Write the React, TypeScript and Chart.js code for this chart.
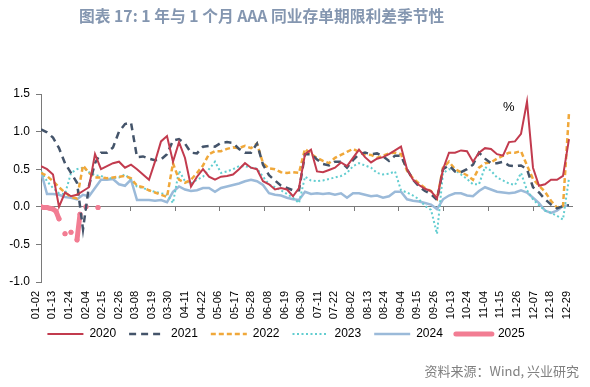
import React, { useEffect, useRef } from 'react';
import { Chart, registerables } from 'chart.js';
Chart.register(...registerables);

const titleText = '图表 17: 1 年与 1 个月 AAA 同业存单期限利差季节性';
const sourceText = '资料来源：Wind, 兴业研究';
const unitText = '%';

const tickLabels = ['01-02','01-13','01-24','02-04','02-15','02-26','03-08','03-19','03-30','04-11','04-22','05-06','05-17','05-28','06-08','06-19','06-30','07-11','07-22','08-02','08-13','08-24','09-04','09-15','09-26','10-13','10-24','11-04','11-15','11-26','12-07','12-18','12-29'];

const seriesNames = ['2020', '2021', '2022', '2023', '2024', '2025'];

const s2020 = [
  0.54, 0.50, 0.43, 0.00, 0.19, 0.14, 0.16, 0.21, 0.26, 0.70,
  0.50, 0.54, 0.58, 0.60, 0.52, 0.56, 0.50, 0.43, 0.36, 0.60,
  0.87, 0.94, 0.60, 0.86, 0.65, 0.27, 0.40, 0.50, 0.40, 0.36,
  0.40, 0.41, 0.43, 0.50, 0.58, 0.52, 0.50, 0.34, 0.30, 0.23,
  0.25, 0.23, 0.14, 0.25, 0.70, 0.76, 0.47, 0.46, 0.49, 0.52,
  0.59, 0.54, 0.65, 0.76, 0.66, 0.59, 0.64, 0.66, 0.70, 0.75,
  0.80, 0.50, 0.36, 0.29, 0.24, 0.21, 0.11, 0.50, 0.72, 0.72,
  0.75, 0.74, 0.60, 0.72, 0.78, 0.77, 0.70, 0.68, 0.86, 0.87,
  0.97, 1.40, 0.52, 0.28, 0.30, 0.36, 0.36, 0.41, 0.90,
];
const s2021 = [
  1.03, 0.99, 0.92, 0.78, 0.58, 0.45, 0.32, -0.30, 0.28, 0.58,
  0.72, 0.72, 0.79, 1.00, 1.10, 1.12, 0.66, 0.67, 0.64, 0.62,
  0.63, 0.70, 0.88, 0.90, 0.84, 0.72, 0.71, 0.80, 0.81, 0.80,
  0.85, 0.86, 0.85, 0.77, 0.72, 0.72, 0.84, 0.56, 0.42, 0.35,
  0.28, 0.25, 0.22, 0.22, 0.70, 0.70, 0.63, 0.57, 0.55, 0.60,
  0.60, 0.52, 0.62, 0.70, 0.72, 0.70, 0.71, 0.67, 0.61, 0.68,
  0.68, 0.50, 0.36, 0.27, 0.21, 0.17, 0.09, 0.50, 0.55, 0.47,
  0.46, 0.50, 0.56, 0.72, 0.64, 0.58, 0.58, 0.60, 0.55, 0.54,
  0.55, 0.50, 0.26, 0.19, 0.10, 0.03, -0.02, 0.01, 0.02,
];
const s2022 = [
  0.45, 0.41, 0.34, 0.26, 0.19, 0.13, 0.11, 0.55, 0.45, 0.39,
  0.39, 0.38, 0.39, 0.40, 0.41, 0.38, 0.28, 0.26, 0.22, 0.19,
  0.16, 0.13, 0.58, 0.36, 0.32, 0.36, 0.45, 0.55, 0.70, 0.74,
  0.74, 0.77, 0.79, 0.78, 0.81, 0.78, 0.84, 0.58, 0.51, 0.50,
  0.46, 0.45, 0.46, 0.45, 0.77, 0.70, 0.65, 0.61, 0.58, 0.65,
  0.69, 0.73, 0.77, 0.73, 0.70, 0.69, 0.65, 0.68, 0.71, 0.72,
  0.70, 0.48, 0.38, 0.31, 0.25, 0.21, 0.11, 0.52, 0.60, 0.50,
  0.46, 0.42, 0.36, 0.52, 0.58, 0.59, 0.64, 0.68, 0.72, 0.72,
  0.74, 0.55, 0.37, 0.28, 0.20, 0.08, -0.01, 0.01, 1.25,
];
const s2023 = [
  0.47, 0.34, 0.25, 0.18, 0.17, 0.45, 0.50, 0.52, 0.46, 0.42,
  0.41, 0.38, 0.38, 0.39, 0.43, 0.36, 0.27, 0.25, 0.22, 0.20,
  0.18, 0.16, 0.05, 0.48, 0.34, 0.31, 0.36, 0.40, 0.50, 0.60,
  0.45, 0.47, 0.50, 0.54, 0.54, 0.52, 0.51, 0.40, 0.30, 0.26,
  0.22, 0.17, 0.12, 0.05, 0.40, 0.35, 0.34, 0.35, 0.37, 0.39,
  0.41, 0.45, 0.54, 0.58, 0.55, 0.52, 0.45, 0.43, 0.44, 0.47,
  0.22, 0.19, 0.15, 0.10, 0.01, -0.04, -0.36, 0.45, 0.50, 0.49,
  0.43, 0.37, 0.30, 0.30, 0.53, 0.48, 0.39, 0.35, 0.31, 0.29,
  0.45, 0.22, 0.10, 0.02, -0.05, -0.08, -0.12, -0.17, 0.38,
];
const s2024 = [
  0.47, 0.17, 0.17, 0.16, 0.13, 0.12, 0.10, 0.16, 0.14, 0.25,
  0.36, 0.36, 0.37, 0.30, 0.28, 0.36, 0.09, 0.09, 0.09, 0.08,
  0.09, 0.06, 0.20, 0.27, 0.23, 0.21, 0.22, 0.25, 0.25, 0.20,
  0.25, 0.27, 0.29, 0.31, 0.34, 0.36, 0.34, 0.29, 0.18, 0.16,
  0.15, 0.12, 0.10, 0.09, 0.20, 0.17, 0.18, 0.17, 0.18, 0.16,
  0.18, 0.12, 0.18, 0.18, 0.16, 0.14, 0.15, 0.12, 0.14, 0.20,
  0.20, 0.10, 0.08, 0.07, 0.05, 0.03, -0.03, 0.10, 0.15, 0.18,
  0.18, 0.15, 0.14, 0.21, 0.26, 0.23, 0.20, 0.19, 0.18, 0.19,
  0.22, 0.19, 0.12, 0.05, -0.05, -0.08, -0.05, 0.01, 0.02,
];
// 2025 is sampled on a finer (half-step) grid
const s2025 = [0.00, -0.01, -0.01, -0.02, -0.03, -0.06, -0.16, null, -0.36, null, -0.34, null, -0.44, -0.10, null, 0.00, null, null, null, -0.01];

const yTicks = { min: -1, max: 1.5, step: 0.5 };

const toPoints = (arr: (number | null)[]) => arr.map((v, i) => ({ x: i, y: v }));

export default function App() {
  const ref = useRef<HTMLCanvasElement>(null);
  useEffect(() => {
    document.body.style.margin = '0';
    Chart.defaults.font.family = '"Liberation Sans", Arial, sans-serif';
    const base = { pointRadius: 0, pointHoverRadius: 0, tension: 0, fill: false, xAxisID: 'x', yAxisID: 'y' };
    const chart = new Chart(ref.current!, {
      type: 'line',
      data: {
        datasets: [
          { ...base, label: seriesNames[0], data: toPoints(s2020), borderColor: '#C23B4E', backgroundColor: '#C23B4E', borderWidth: 2 },
          { ...base, label: seriesNames[1], data: toPoints(s2021), borderColor: '#44546A', backgroundColor: '#44546A', borderWidth: 2.5, borderDash: [7, 5] },
          { ...base, label: seriesNames[2], data: toPoints(s2022), borderColor: '#F0A83A', backgroundColor: '#F0A83A', borderWidth: 2.5, borderDash: [5, 3] },
          { ...base, label: seriesNames[3], data: toPoints(s2023), borderColor: '#62CDD0', backgroundColor: '#62CDD0', borderWidth: 2, borderDash: [2, 2.5] },
          { ...base, label: seriesNames[4], data: toPoints(s2024), borderColor: '#9BBAD9', backgroundColor: '#9BBAD9', borderWidth: 2.5 },
          { ...base, label: seriesNames[5], data: toPoints(s2025), xAxisID: 'x25', borderColor: '#F27D93', backgroundColor: '#F27D93', borderWidth: 5, borderCapStyle: 'round', pointRadius: 2.5, pointBorderWidth: 0, pointBackgroundColor: '#F27D93', spanGaps: false },
        ] as any,
      },
      options: {
        animation: false,
        responsive: false,
        layout: { padding: { top: 94, right: 18, bottom: 37, left: 0 } },
        plugins: {
          tooltip: { enabled: false },
          title: { display: false },
          legend: {
            display: true,
            position: 'bottom',
            labels: {
              usePointStyle: true,
              pointStyle: 'line',
              pointStyleWidth: 36,
              padding: 13,
              color: '#000',
              font: { size: 12 },
              generateLabels: (c: any) => c.data.datasets.map((ds: any, i: number) => ({
                text: ds.label,
                fillStyle: 'rgba(0,0,0,0)',
                strokeStyle: ds.borderColor,
                lineWidth: ds.borderWidth,
                lineDash: ds.borderDash || [],
                lineCap: ds.borderCapStyle || 'butt',
                pointStyle: 'line',
                fontColor: '#000',
                hidden: false,
                datasetIndex: i,
              })),
            },
          },
        },
        scales: {
          x: {
            type: 'linear',
            position: 'bottom',
            min: 0,
            max: 88.5,
            afterFit: (s: any) => { s.height = 33; },
            ticks: { display: false },
            grid: { display: false, drawTicks: false },
            border: { display: false },
          },
          x25: { type: 'linear', min: 0, max: 177, display: false },
          xt: {
            type: 'linear',
            position: { y: 0 } as any,
            min: 0,
            max: 88.5,
            afterBuildTicks: (s: any) => {
              const t = [];
              for (let k = 0; k * 7.455 <= 88.5; k++) t.push({ value: k * 7.455 });
              s.ticks = t;
            },
            ticks: { display: false },
            grid: { drawOnChartArea: false, drawTicks: true, tickLength: 4, color: '#7a7a7a' },
            border: { display: true, color: '#7a7a7a', width: 1 },
          },
          xl: {
            type: 'linear',
            position: { y: -1 } as any,
            bounds: 'data',
            min: 0.32,
            max: 32.32,
            afterBuildTicks: (s: any) => {
              s.ticks = tickLabels.map((_, k) => ({ value: k }));
            },
            ticks: {
              autoSkip: false,
              maxRotation: 90,
              minRotation: 90,
              padding: 9,
              color: '#000',
              font: { size: 11 },
              callback: (v: any) => tickLabels[Math.round(Number(v))] ?? '',
            },
            grid: { display: false, drawTicks: false },
            border: { display: false },
          },
          y: {
            type: 'linear',
            min: yTicks.min,
            max: yTicks.max,
            afterFit: (s: any) => { s.width = 41; },
            ticks: {
              stepSize: yTicks.step,
              padding: 6,
              color: '#000',
              font: { size: 12 },
              callback: (v: any) => Number(v).toFixed(1),
            },
            grid: { drawOnChartArea: false, drawTicks: true, tickLength: 5, color: '#7a7a7a' },
            border: { display: true, color: '#7a7a7a', width: 1 },
          },
        },
      } as any,
    });
    return () => chart.destroy();
  }, []);

  return (
    <div style={{ position: 'fixed', left: 0, top: 0, width: 590, height: 387, background: '#fff', overflow: 'hidden' }}>
      <canvas ref={ref} width={590} height={387} style={{ position: 'absolute', left: 0, top: 0, width: 590, height: 387 }} />
      <div style={{ position: 'absolute', left: 79, top: 4, whiteSpace: 'nowrap', fontFamily: '"Noto Sans CJK SC", sans-serif', fontWeight: 700, fontSize: 15.75, lineHeight: '24px', color: '#8496B0' }}>{titleText}</div>
      <div style={{ position: 'absolute', left: 503, top: 98, fontFamily: '"Liberation Sans", Arial, sans-serif', fontSize: 13, lineHeight: '18px', color: '#000' }}>{unitText}</div>
      <div style={{ position: 'absolute', right: 11, top: 361, whiteSpace: 'nowrap', fontFamily: '"Noto Sans CJK SC", sans-serif', fontSize: 13, lineHeight: '20px', color: '#808080' }}>{sourceText}</div>
    </div>
  );
}
